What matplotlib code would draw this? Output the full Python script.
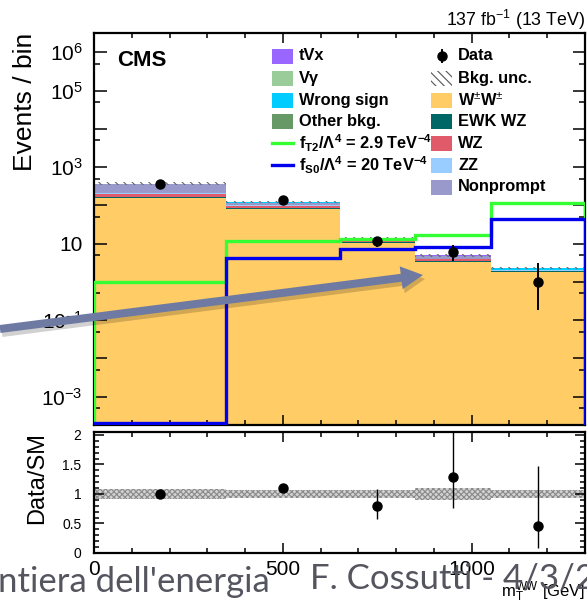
import matplotlib
matplotlib.use("Agg")
import matplotlib.pyplot as plt
import numpy as np
from matplotlib.lines import Line2D
from matplotlib.patches import FancyArrow, Rectangle
from matplotlib.ticker import FixedLocator, FuncFormatter, MultipleLocator

plt.rcParams["font.family"] = ["Liberation Sans", "DejaVu Sans"]
plt.rcParams["mathtext.fontset"] = "custom"
plt.rcParams["mathtext.rm"] = "Liberation Sans"
plt.rcParams["mathtext.it"] = "Liberation Sans"
plt.rcParams["mathtext.bf"] = "Liberation Sans:bold"
plt.rcParams["hatch.linewidth"] = 0.8

# ---- data ----
edges = [0, 350, 650, 850, 1050, 1300]
centers = [175, 500, 750, 950, 1175]

ww = [152, 79, 10.2, 3.25, 1.78]
ewk_wz = [12, 8, 0.6, 0.2, 0.11]
wz = [38, 11, 1.2, 0.5, 0.08]
zz = [4, 1.5, 0.15, 0.05, 0.02]
nonprompt = [145, 17, 1.3, 0.7, 0.04]
wrong_sign = [6, 2, 0.3, 0.1, 0.21]
other_bkg = [5, 2, 0.1, 0.03, 0.01]
vgamma = [4, 2, 0.1, 0.03, 0.01]
tvx = [4, 2, 0.1, 0.03, 0.01]
bkg_unc = [0.08, 0.07, 0.07, 0.10, 0.07]

ft2 = [1.0, 12, 13, 17, 112]
fs0 = [2.0e-4, 4.1, 7.0, 8.3, 45]

data = [360, 140, 11.5, 5.9, 0.98]
data_lo = [19, 12, 3.4, 2.3, 0.8]
data_hi = [19, 12, 3.4, 3.5, 2.2]

ratio = [1.0, 1.10, 0.79, 1.28, 0.45]
ratio_lo = [0.05, 0.07, 0.22, 0.51, 0.37]
ratio_hi = [0.05, 0.07, 0.30, 0.90, 1.03]

stack = [
    ("W$^{\\pm}$W$^{\\pm}$", ww, "#ffcc66"),
    ("EWK WZ", ewk_wz, "#006666"),
    ("WZ", wz, "#e05a6a"),
    ("ZZ", zz, "#99ccff"),
    ("Nonprompt", nonprompt, "#9999cc"),
    ("Wrong sign", wrong_sign, "#00ccff"),
    ("Other bkg.", other_bkg, "#669966"),
    ("V\u03b3", vgamma, "#99cc99"),
    ("tVx", tvx, "#9966ff"),
]
colors = {name: c for name, _, c in stack}

W, H = 587, 603
fig = plt.figure(figsize=(W / 100, H / 100), dpi=100)


def fx(px):
    return px / W


def fy(py):
    return 1 - py / H


ax = fig.add_axes([fx(94), fy(425), fx(585) - fx(94), fy(33) - fy(425)])
rax = fig.add_axes([fx(94), fy(553), fx(585) - fx(94), fy(432) - fy(553)])

# ---- main panel ----
ymin, ymax = 1.8e-4, 3.2e6
base = np.full(5, 1e-6)
for name, vals, c in stack:
    top = base + np.array(vals)
    ax.stairs(top, edges, baseline=base, fill=True, color=c, lw=0)
    base = top
total = base
unc = np.array(bkg_unc)
ax.stairs(total * (1 + unc), edges, baseline=total * (1 - unc), fill=True,
          facecolor="none", edgecolor="#666666", hatch="\\\\\\\\", lw=0)

ax.stairs(ft2, edges, baseline=1e-8, color="#33ff33", lw=2.4, zorder=3)
ax.stairs(fs0, edges, baseline=1e-8, color="#0000ee", lw=2.4, zorder=3)

ax.errorbar(centers, data, yerr=[data_lo, data_hi], fmt="o", color="k",
            ms=6.5, elinewidth=1.4, capsize=0, zorder=5)

ax.set_yscale("log")
ax.set_xlim(0, 1300)
ax.set_ylim(ymin, ymax)

labelled = [1e6, 1e5, 1e3, 1e1, 1e-1, 1e-3]


def ylab(v, _pos):
    if not any(np.isclose(v, l) for l in labelled):
        return ""
    e = int(round(np.log10(v)))
    if e == 1:
        return "10"
    return "$10^{%d}$" % e


ax.yaxis.set_major_locator(FixedLocator([10.0 ** e for e in range(-4, 7)]))
ax.yaxis.set_minor_locator(FixedLocator([5 * 10.0 ** e for e in range(-4, 6)]))
ax.yaxis.set_major_formatter(FuncFormatter(ylab))
ax.xaxis.set_major_locator(MultipleLocator(500))
ax.xaxis.set_minor_locator(MultipleLocator(100))
ax.tick_params(axis="both", which="both", direction="in", top=True, right=True, width=1.1)
ax.tick_params(axis="y", which="major", length=9, labelsize=15, pad=8)
ax.tick_params(axis="y", which="minor", length=4.5)
ax.tick_params(axis="x", which="major", length=7, labelbottom=False)
ax.tick_params(axis="x", which="minor", length=3.5)
for s in ax.spines.values():
    s.set_linewidth(1.6)
    s.set_zorder(2.5)

ax.set_ylabel("Events / bin", fontsize=19, loc="top", labelpad=3)
ax.text(0.047, 0.93, "CMS", transform=ax.transAxes, fontsize=16,
        fontweight="bold", va="center", ha="left")
fig.text(fx(585), fy(20), "137 fb$^{-1}$ (13 TeV)", fontsize=12.8,
         ha="right", va="center")

# ---- legend (drawn by hand to match the two-column layout) ----
left_rows = [
    ("tVx", "box"), ("V\u03b3", "box"), ("Wrong sign", "box"),
    ("Other bkg.", "box"),
    ("$\\mathbf{f_{T2}/\\Lambda^{4}}$ = 2.9 TeV$^{\\mathbf{-4}}$", "green"),
    ("$\\mathbf{f_{S0}/\\Lambda^{4}}$ = 20 TeV$^{\\mathbf{-4}}$", "blue"),
]
right_rows = [
    ("Data", "data"), ("Bkg. unc.", "hatch"), ("W$^{\\pm}$W$^{\\pm}$", "box"),
    ("EWK WZ", "box"), ("WZ", "box"), ("ZZ", "box"), ("Nonprompt", "box"),
]
row_y = [56, 78, 100, 121.5, 143, 165, 187]


def legend_col(rows, x0, xtext):
    for (label, kind), py in zip(rows, row_y):
        if kind == "box":
            fig.add_artist(Rectangle((fx(x0), fy(py + 7.5)), fx(21), 15 / H,
                                     transform=fig.transFigure,
                                     color=colors[label], lw=0))
        elif kind == "hatch":
            fig.add_artist(Rectangle((fx(x0), fy(py + 7.5)), fx(21), 15 / H,
                                     transform=fig.transFigure, facecolor="none",
                                     edgecolor="#555555", hatch="\\\\\\\\", lw=0))
        elif kind in ("green", "blue"):
            c = "#33ff33" if kind == "green" else "#0000ee"
            fig.add_artist(Line2D([fx(x0), fx(x0 + 21)], [fy(py), fy(py)],
                                  transform=fig.transFigure, color=c, lw=2.4))
        elif kind == "data":
            fig.add_artist(Line2D([fx(x0 + 10.5)] * 2, [fy(py - 6), fy(py + 6)],
                                  transform=fig.transFigure, color="k", lw=1.4))
            fig.add_artist(Line2D([fx(x0 + 10.5)], [fy(py)], marker="o", ms=6.5,
                                  transform=fig.transFigure, color="k"))
        fig.text(fx(xtext), fy(py), label, fontsize=11.8, fontweight="bold",
                 va="center", ha="left")


legend_col(left_rows, 272, 299)
legend_col(right_rows, 431, 458)

# ---- ratio panel ----
runc = np.array(bkg_unc)
rax.stairs(1 + runc, edges, baseline=1 - runc, fill=True, facecolor="#d2d2d2",
           edgecolor="#8a8a8a", hatch="xxxxxx", lw=0)
rax.errorbar(centers, ratio, yerr=[ratio_lo, ratio_hi], fmt="o", color="k",
             ms=6.5, elinewidth=1.0, capsize=0, zorder=5)
rax.set_xlim(0, 1300)
rax.set_ylim(0, 2.05)
rax.xaxis.set_major_locator(MultipleLocator(500))
rax.xaxis.set_minor_locator(MultipleLocator(100))
rax.yaxis.set_major_locator(MultipleLocator(0.5))
rax.yaxis.set_minor_locator(MultipleLocator(0.1))
fmt = FuncFormatter(lambda v, _p: "%g" % v)
rax.xaxis.set_major_formatter(fmt)
rax.yaxis.set_major_formatter(fmt)
rax.tick_params(axis="both", which="both", direction="in", top=True, right=True, width=1.1)
rax.tick_params(axis="y", which="major", length=7, labelsize=10, pad=9)
rax.tick_params(axis="y", which="minor", length=3.5)
rax.tick_params(axis="x", which="major", length=7, labelsize=15, pad=5)
rax.tick_params(axis="x", which="minor", length=3.5)
for s in rax.spines.values():
    s.set_linewidth(1.6)
rax.set_ylabel("Data/SM", fontsize=17, loc="top", labelpad=10)
fig.text(fx(585), fy(597), "m$_{\\mathrm{T}}^{\\mathrm{WW}}$ [GeV]", fontsize=12,
         ha="right", va="baseline")

# ---- slide overlay: arrow and footer ----
arrow_y0 = (H - 329) / 100
arrow_y1 = (H - 275) / 100
shadow = FancyArrow(0.02, arrow_y0 - 0.04, 4.23, arrow_y1 - arrow_y0, width=0.08,
                    head_width=0.23, head_length=0.22, length_includes_head=True,
                    color="#000000", alpha=0.18, lw=0, transform=fig.dpi_scale_trans)
fig.add_artist(shadow)
arrow = FancyArrow(0.0, arrow_y0, 4.23, arrow_y1 - arrow_y0, width=0.08,
                   head_width=0.23, head_length=0.22, length_includes_head=True,
                   color="#6e7aa2", lw=0, transform=fig.dpi_scale_trans)
fig.add_artist(arrow)

fig.text(fx(-2), fy(592), "ntiera dell'energia", fontsize=25, family="Lato",
         color="#55555f", ha="left", va="baseline")
fig.text(fx(310), fy(588), "F. Cossutti - 4/3/2", fontsize=25, family="Lato",
         color="#55555f", ha="left", va="baseline")

fig.savefig("out.png", dpi=100)
